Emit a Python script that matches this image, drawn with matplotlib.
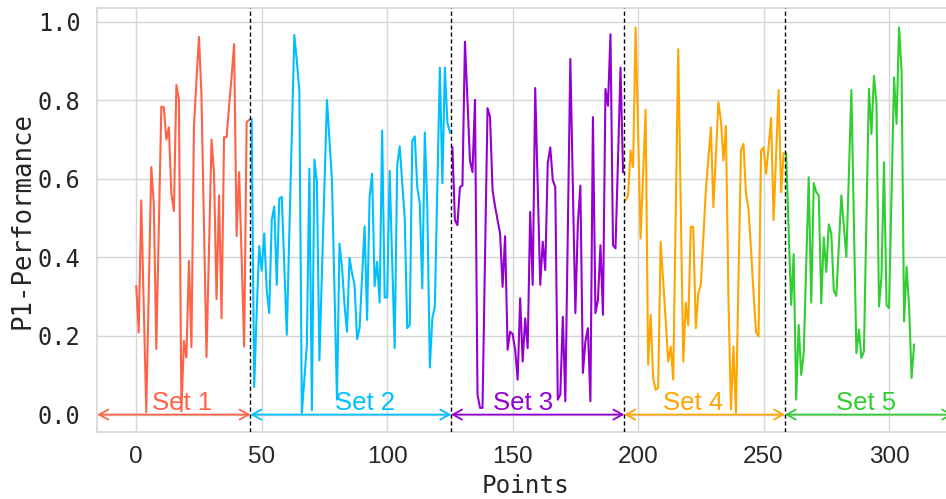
import matplotlib
matplotlib.use("Agg")
import matplotlib.pyplot as plt
import numpy as np
from matplotlib.ticker import FormatStrFormatter, MultipleLocator

# P1 performance per point, split into five sets
set1 = [0.327, 0.209, 0.545, 0.275, 0.006, 0.32, 0.63, 0.537, 0.167, 0.475,
        0.784, 0.782, 0.70, 0.731, 0.562, 0.518, 0.839, 0.803, 0.008, 0.188,
        0.145, 0.391, 0.172, 0.733, 0.85, 0.961, 0.812, 0.48, 0.146, 0.42,
        0.70, 0.613, 0.294, 0.558, 0.245, 0.706, 0.706, 0.785, 0.86, 0.943,
        0.454, 0.617, 0.40, 0.173, 0.744, 0.75]
set2 = [0.752, 0.070, 0.26, 0.429, 0.366, 0.461, 0.317, 0.258, 0.495, 0.530,
        0.330, 0.550, 0.554, 0.38, 0.203, 0.46, 0.71, 0.966, 0.90, 0.824,
        0.004, 0.09, 0.178, 0.626, 0.011, 0.649, 0.592, 0.138, 0.36, 0.58,
        0.801, 0.70, 0.596, 0.32, 0.038, 0.435, 0.376, 0.28, 0.211, 0.399,
        0.36, 0.330, 0.192, 0.22, 0.35, 0.479, 0.241, 0.554, 0.613, 0.327,
        0.389, 0.285, 0.723, 0.298, 0.298, 0.620, 0.39, 0.169, 0.634, 0.683,
        0.59, 0.499, 0.22, 0.228, 0.696, 0.708, 0.579, 0.537, 0.321, 0.718,
        0.528, 0.12, 0.245, 0.275, 0.58, 0.883, 0.589, 0.883, 0.744, 0.718]
set3 = [0.68, 0.495, 0.482, 0.579, 0.583, 0.949, 0.80, 0.647, 0.617, 0.801,
        0.051, 0.017, 0.017, 0.40, 0.78, 0.757, 0.571, 0.53, 0.495, 0.461,
        0.325, 0.454, 0.165, 0.211, 0.205, 0.165, 0.089, 0.296, 0.135, 0.245,
        0.169, 0.516, 0.33, 0.831, 0.58, 0.33, 0.44, 0.368, 0.64, 0.68,
        0.597, 0.579, 0.038, 0.051, 0.249, 0.034, 0.47, 0.905, 0.58, 0.258,
        0.486, 0.583, 0.106, 0.186, 0.22, 0.034, 0.757, 0.258, 0.292, 0.431,
        0.254, 0.829, 0.786, 0.968, 0.431, 0.423, 0.65, 0.883, 0.617]
set4 = [0.545, 0.558, 0.672, 0.63, 0.985, 0.72, 0.448, 0.61, 0.776, 0.127,
        0.254, 0.093, 0.063, 0.068, 0.44, 0.34, 0.24, 0.135, 0.173, 0.089,
        0.51, 0.93, 0.53, 0.135, 0.285, 0.228, 0.478, 0.478, 0.22, 0.309,
        0.33, 0.45, 0.571, 0.65, 0.731, 0.528, 0.66, 0.795, 0.748, 0.647,
        0.735, 0.30, 0.013, 0.173, 0.004, 0.34, 0.672, 0.689, 0.562, 0.524,
        0.42, 0.31, 0.21, 0.199, 0.672, 0.68, 0.613, 0.68, 0.755, 0.495,
        0.66, 0.826, 0.566, 0.665]
set5 = [0.664, 0.47, 0.279, 0.408, 0.038, 0.228, 0.101, 0.156, 0.38, 0.604,
        0.285, 0.589, 0.566, 0.558, 0.283, 0.451, 0.363, 0.484, 0.461, 0.315,
        0.302, 0.43, 0.558, 0.48, 0.401, 0.61, 0.826, 0.49, 0.156, 0.216,
        0.144, 0.161, 0.50, 0.829, 0.714, 0.862, 0.791, 0.275, 0.351, 0.642,
        0.279, 0.271, 0.56, 0.858, 0.74, 0.985, 0.875, 0.237, 0.376, 0.275,
        0.093, 0.178]

SET_NAMES = ["Set 1", "Set 2", "Set 3", "Set 4", "Set 5"]
SET_COLORS = ["tomato", "deepskyblue", "darkviolet", "orange", "limegreen"]
LABEL_SHIFT = [3.3, 5.8, -6.0, -4.5, -1.0]  # nudge of each label from its span centre

GRID = "#d6d6d6"
MONO = "DejaVu Sans Mono"
SANS = "Liberation Sans"


def main():
    sets = [set1, set2, set3, set4, set5]

    fig = plt.figure(figsize=(9.46, 4.99), dpi=100)
    ax = fig.add_axes([0.1029, 0.1337, 0.9045, 0.8497])
    ax.set_axisbelow(True)

    starts = np.cumsum([0] + [len(s) for s in sets[:-1]])
    for vals, x0, color in zip(sets, starts, SET_COLORS):
        x = np.arange(x0, x0 + len(vals))
        ax.plot(x, vals, color=color, lw=1.5, zorder=3)

    xlo, xhi = ax.get_xlim()
    bounds = [xlo] + [b - 0.5 for b in starts[1:]] + [xhi]

    for b in bounds[1:-1]:
        ax.axvline(b, color="black", ls=(0, (3, 2)), lw=1.0, zorder=4)

    for i, (name, color) in enumerate(zip(SET_NAMES, SET_COLORS)):
        a, b = bounds[i], bounds[i + 1]
        ax.annotate("", xy=(b, 0), xytext=(a, 0),
                    arrowprops=dict(arrowstyle="<->,head_length=0.65,head_width=0.36",
                                    color=color, lw=1.3, shrinkA=0, shrinkB=0),
                    zorder=5)
        ax.text((a + b) / 2 + LABEL_SHIFT[i], 0.012, name, color=color,
                fontsize=18.5, family=SANS, ha="center", va="baseline", zorder=5)

    ax.set_xlim(xlo, xhi)
    ax.xaxis.set_major_locator(MultipleLocator(50))
    ax.yaxis.set_major_locator(MultipleLocator(0.2))
    ax.yaxis.set_major_formatter(FormatStrFormatter("%.1f"))
    ax.grid(True, color=GRID, lw=1.0)
    for sp in ax.spines.values():
        sp.set_color(GRID)
        sp.set_linewidth(1.2)

    ax.tick_params(length=0, colors="#262626")
    ax.tick_params(axis="y", pad=12)
    ax.tick_params(axis="x", pad=10)
    for lab in ax.get_yticklabels():
        lab.set_family(MONO)
        lab.set_fontsize(17)
    for lab in ax.get_xticklabels():
        lab.set_family(SANS)
        lab.set_fontsize(17.5)

    ax.set_ylabel("P1-Performance", family=MONO, fontsize=18.5, color="#262626")
    ax.set_xlabel("Points", family=MONO, fontsize=17.5, color="#262626")
    ax.yaxis.set_label_coords(-0.072, 0.5)
    ax.xaxis.set_label_coords(0.5, -0.098)

    fig.savefig("out.png", dpi=100)


if __name__ == "__main__":
    main()
